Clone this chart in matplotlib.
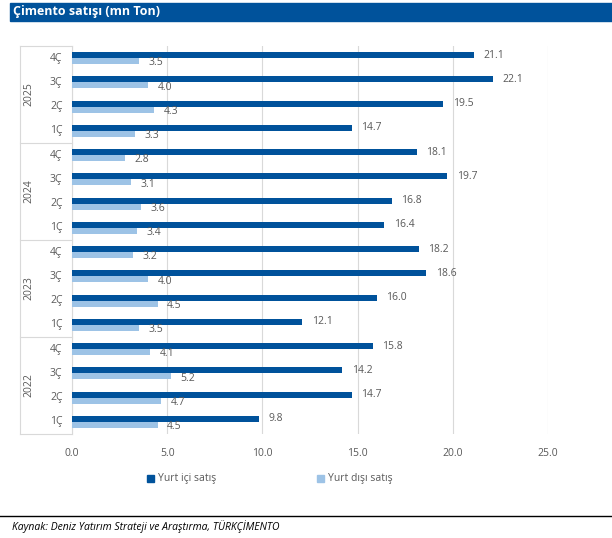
import matplotlib
matplotlib.use("Agg")
import matplotlib.pyplot as plt
import numpy as np
from matplotlib.patches import Rectangle
from matplotlib.lines import Line2D

plt.rcParams['font.family'] = ['Open Sans', 'DejaVu Sans']

years = ["2022", "2023", "2024", "2025"]
quarters = ["1Ç", "2Ç", "3Ç", "4Ç"]
# bottom to top: 2022 1Ç ... 2025 4Ç
yurt_ici = [9.8, 14.7, 14.2, 15.8,
            12.1, 16.0, 18.6, 18.2,
            16.4, 16.8, 19.7, 18.1,
            14.7, 19.5, 22.1, 21.1]
yurt_disi = [4.5, 4.7, 5.2, 4.1,
             3.5, 4.5, 4.0, 3.2,
             3.4, 3.6, 3.1, 2.8,
             3.3, 4.3, 4.0, 3.5]
xticks = [0, 5, 10, 15, 20, 25]

dark = "#00529B"
light = "#9DC3E6"
grey_txt = "#595959"
grid_c = "#D9D9D9"

W, H = 612, 538
fig = plt.figure(figsize=(W / 100, H / 100), dpi=100)

def fx(px):
    return px / W

def fy(py):
    return 1 - py / H

# title bar
fig.patches.append(Rectangle((fx(10), fy(21)), 1 - fx(10), (21 - 3) / H,
                             transform=fig.transFigure, color=dark, zorder=0))
fig.text(fx(13), fy(12), "Çimento satışı (mn Ton)", color="white",
         fontsize=9, fontweight="bold", va="center", ha="left")

ax_l, ax_r, ax_t, ax_b = 72, 548, 46, 434
ax = fig.add_axes([fx(ax_l), fy(ax_b), fx(ax_r) - fx(ax_l), (ax_b - ax_t) / H])

n = len(yurt_ici)
pos = np.arange(n)
bh = 0.25
ax.barh(pos + bh / 2, yurt_ici, height=bh, color=dark, zorder=3)
ax.barh(pos - bh / 2, yurt_disi, height=bh, color=light, zorder=3)
for i in range(n):
    ax.text(yurt_ici[i] + 0.5, pos[i] + bh / 2, f"{yurt_ici[i]:.1f}",
            va="center", ha="left", fontsize=7.5, color=grey_txt)
    ax.text(yurt_disi[i] + 0.5, pos[i] - bh * 0.8, f"{yurt_disi[i]:.1f}",
            va="center", ha="left", fontsize=7.5, color=grey_txt)

ax.set_xlim(0, 25)
ax.set_ylim(-0.5, n - 0.5)
ax.set_xticks(xticks)
ax.set_xticklabels([f"{v:.1f}" for v in xticks], fontsize=7.5, color=grey_txt)
ax.tick_params(axis="x", length=0, pad=10)
ax.set_yticks([])
ax.grid(axis="x", color=grid_c, linewidth=0.8, zorder=0)
for s in ["top", "right", "bottom"]:
    ax.spines[s].set_visible(False)
ax.spines["left"].set_color(grid_c)
ax.spines["left"].set_linewidth(0.8)

# category labels (quarters and years)
for i in range(n):
    ax.text(-0.5, pos[i], quarters[i % 4], ha="right", va="center",
            fontsize=7.5, color=grey_txt, transform=ax.transData)
for g in range(len(years)):
    yc = g * 4 + 1.5
    ax.text(-2.25, yc, years[g], ha="center", va="center", rotation=90,
            fontsize=7.5, color=grey_txt, transform=ax.transData, clip_on=False)

# separators in the label area
x0 = (20 - ax_l) / (ax_r - ax_l) * 25
for b in [-0.5, 3.5, 7.5, 11.5, 15.5]:
    ax.add_line(Line2D([x0, 0], [b, b], color=grid_c, linewidth=0.8,
                       clip_on=False))
ax.add_line(Line2D([x0, x0], [-0.5, n - 0.5], color=grid_c, linewidth=0.8,
                   clip_on=False))

# legend
fig.patches.append(Rectangle((fx(147), fy(482)), 7 / W, 7 / H,
                             transform=fig.transFigure, color=dark))
fig.text(fx(158), fy(478), "Yurt içi satış", fontsize=7.5, color=grey_txt,
         va="center", ha="left")
fig.patches.append(Rectangle((fx(317), fy(482)), 7 / W, 7 / H,
                             transform=fig.transFigure, color=light))
fig.text(fx(328), fy(478), "Yurt dışı satış", fontsize=7.5, color=grey_txt,
         va="center", ha="left")

# source line
fig.add_artist(Line2D([0, 1], [fy(516), fy(516)], color="black",
                      linewidth=1, transform=fig.transFigure))
fig.text(fx(12), fy(527), "Kaynak: Deniz Yatırım Strateji ve Araştırma, TÜRKÇİMENTO",
         fontsize=7.5, style="italic", color="black", va="center", ha="left")

fig.savefig("out.png", dpi=100)
